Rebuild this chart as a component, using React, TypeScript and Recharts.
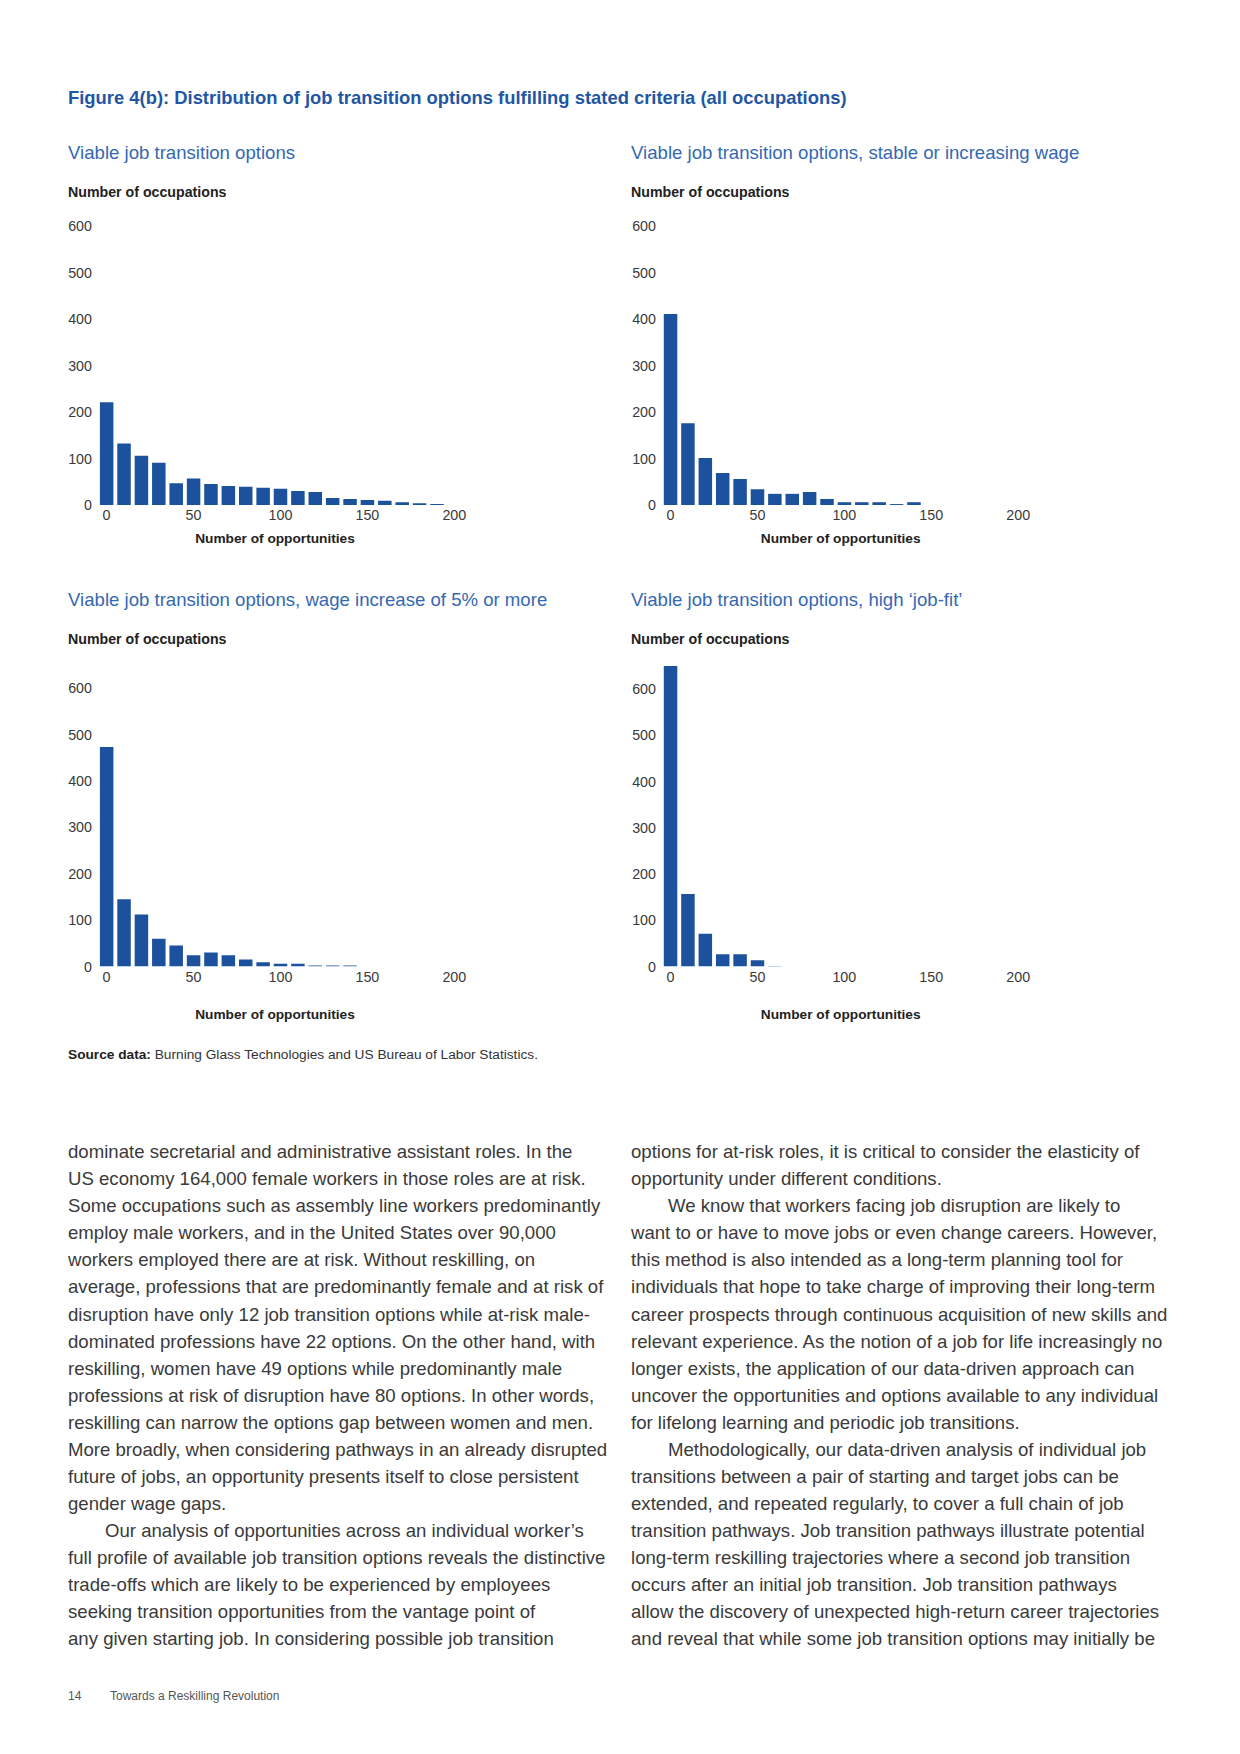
import React from "react";
import { BarChart, Bar, XAxis, YAxis } from "recharts";

const FONT = '"Liberation Sans", Arial, Helvetica, sans-serif';
const BAR = "#1c519d";
const BLUE = "#1f57a5";
const SUB = "#3568b3";
const INK = "#3a3a3a";

// bins: number of opportunities (start of each 10-wide bin)
const binsAll = [0, 10, 20, 30, 40, 50, 60, 70, 80, 90, 100, 110, 120, 130, 140, 150, 160, 170, 180, 190];
const binsStable = [0, 10, 20, 30, 40, 50, 60, 70, 80, 90, 100, 110, 120, 130, 140];
const binsWage = [0, 10, 20, 30, 40, 50, 60, 70, 80, 90, 100, 110, 120, 130, 140];
const binsFit = [0, 10, 20, 30, 40, 50, 60];

// number of occupations per bin
const occAll = [221, 132, 106, 91, 47, 57, 45, 41, 39, 37, 35, 30, 28, 15, 13, 11, 9, 6, 4, 2];
const occStable = [411, 176, 101, 69, 56, 34, 24, 24, 28, 13, 6, 6, 6, 2, 6];
const occWage = [473, 145, 112, 60, 45, 24, 30, 24, 15, 9, 6, 6, 2, 2, 2];
const occFit = [650, 157, 71, 27, 27, 14, 1.5];

const yTicks = [0, 100, 200, 300, 400, 500, 600];
const xTicks = [0, 50, 100, 150, 200];
const X_MIN = -6;
const X_MAX = 230;

const leftLines = [
  "dominate secretarial and administrative assistant roles. In the",
  "US economy 164,000 female workers in those roles are at risk.",
  "Some occupations such as assembly line workers predominantly",
  "employ male workers, and in the United States over 90,000",
  "workers employed there are at risk. Without reskilling, on",
  "average, professions that are predominantly female and at risk of",
  "disruption have only 12 job transition options while at-risk male-",
  "dominated professions have 22 options. On the other hand, with",
  "reskilling, women have 49 options while predominantly male",
  "professions at risk of disruption have 80 options. In other words,",
  "reskilling can narrow the options gap between women and men.",
  "More broadly, when considering pathways in an already disrupted",
  "future of jobs, an opportunity presents itself to close persistent",
  "gender wage gaps.",
  "\tOur analysis of opportunities across an individual worker\u2019s",
  "full profile of available job transition options reveals the distinctive",
  "trade-offs which are likely to be experienced by employees",
  "seeking transition opportunities from the vantage point of",
  "any given starting job. In considering possible job transition",
];

const rightLines = [
  "options for at-risk roles, it is critical to consider the elasticity of",
  "opportunity under different conditions.",
  "\tWe know that workers facing job disruption are likely to",
  "want to or have to move jobs or even change careers. However,",
  "this method is also intended as a long-term planning tool for",
  "individuals that hope to take charge of improving their long-term",
  "career prospects through continuous acquisition of new skills and",
  "relevant experience. As the notion of a job for life increasingly no",
  "longer exists, the application of our data-driven approach can",
  "uncover the opportunities and options available to any individual",
  "for lifelong learning and periodic job transitions.",
  "\tMethodologically, our data-driven analysis of individual job",
  "transitions between a pair of starting and target jobs can be",
  "extended, and repeated regularly, to cover a full chain of job",
  "transition pathways. Job transition pathways illustrate potential",
  "long-term reskilling trajectories where a second job transition",
  "occurs after an initial job transition. Job transition pathways",
  "allow the discovery of unexpected high-return career trajectories",
  "and reveal that while some job transition options may initially be",
];

type TProps = {
  x: number;
  y: number;
  size: number;
  color?: string;
  weight?: number | string;
  center?: boolean;
  children: React.ReactNode;
};

function T({ x, y, size, color = INK, weight = 400, center = false, children }: TProps) {
  return (
    <div
      style={{
        position: "absolute",
        left: x,
        top: y - size,
        lineHeight: `${size * 2}px`,
        fontSize: size,
        fontWeight: weight,
        color,
        whiteSpace: "nowrap",
        transform: center ? "translateX(-50%)" : undefined,
      }}
    >
      {children}
    </div>
  );
}

type HistProps = {
  bins: number[];
  counts: number[];
  x0: number;
  x200: number;
  yBase: number;
  y600: number;
  yMax: number;
  labelRight: number;
  barSize: number;
};

function Histogram({ bins, counts, x0, x200, yBase, y600, yMax, labelRight, barSize }: HistProps) {
  const data = bins.map((b, i) => ({ x: b, n: counts[i] }));
  const pxX = (x200 - x0) / 200;
  const pxY = (yBase - y600) / 600;
  const plotLeft = x0 + X_MIN * pxX;
  const plotRight = x0 + X_MAX * pxX;
  const plotTop = yBase - yMax * pxY;
  const left = labelRight - 40;
  const top = plotTop - 20;
  const width = plotRight - left + 30;
  const xAxisH = 30;
  const height = yBase - top + xAxisH;
  const tickStyle = { fill: INK, fontSize: 14.3, fontFamily: FONT };
  return (
    <div style={{ position: "absolute", left, top }}>
      <BarChart
        width={width}
        height={height}
        data={data}
        margin={{ top: plotTop - top, right: width - (plotRight - left), bottom: 0, left: 0 }}
      >
        <XAxis
          type="number"
          dataKey="x"
          domain={[X_MIN, X_MAX]}
          ticks={xTicks}
          allowDataOverflow
          axisLine={false}
          tickLine={false}
          tickSize={0}
          tickMargin={5}
          height={xAxisH}
          interval={0}
          tick={tickStyle}
        />
        <YAxis
          type="number"
          domain={[0, yMax]}
          ticks={yTicks}
          allowDataOverflow
          axisLine={false}
          tickLine={false}
          tickSize={0}
          tickMargin={plotLeft - labelRight}
          width={plotLeft - left}
          interval={0}
          tick={tickStyle}
        />
        <Bar dataKey="n" fill={BAR} barSize={barSize} isAnimationActive={false} />
      </BarChart>
    </div>
  );
}

function Column({ x, lines }: { x: number; lines: string[] }) {
  return (
    <>
      {lines.map((l, i) => {
        const indent = l.startsWith("\t");
        return (
          <T key={i} x={indent ? x + 37 : x} y={1151.7 + 27.07 * i} size={18.6} color="#3a3a3a">
            {indent ? l.slice(1) : l}
          </T>
        );
      })}
    </>
  );
}

export default function App() {
  return (
    <div
      style={{
        position: "relative",
        width: 1240,
        height: 1754,
        background: "#fff",
        fontFamily: FONT,
        overflow: "hidden",
      }}
    >
      <style>{"body{margin:0}"}</style>

      <T x={68} y={98.3} size={18.4} color={BLUE} weight={700}>
        Figure 4(b): Distribution of job transition options fulfilling stated criteria (all occupations)
      </T>

      <T x={68} y={153} size={18.6} color={SUB}>Viable job transition options</T>
      <T x={631} y={153} size={18.6} color={SUB}>Viable job transition options, stable or increasing wage</T>
      <T x={68} y={600} size={18.6} color={SUB}>Viable job transition options, wage increase of 5% or more</T>
      <T x={631} y={600} size={18.6} color={SUB}>Viable job transition options, high {"\u2018"}job-fit{"\u2019"}</T>

      <T x={68} y={192} size={14.2} color="#222" weight={700}>Number of occupations</T>
      <T x={631} y={192} size={14.2} color="#222" weight={700}>Number of occupations</T>
      <T x={68} y={639.3} size={14.2} color="#222" weight={700}>Number of occupations</T>
      <T x={631} y={639.3} size={14.2} color="#222" weight={700}>Number of occupations</T>

      <Histogram bins={binsAll} counts={occAll} x0={106.3} x200={454} yBase={505} y600={226} yMax={600} labelRight={91.7} barSize={13.5} />
      <Histogram bins={binsStable} counts={occStable} x0={670} x200={1017.7} yBase={505} y600={226} yMax={600} labelRight={655.5} barSize={13.5} />
      <Histogram bins={binsWage} counts={occWage} x0={106.3} x200={454} yBase={966.3} y600={688} yMax={650} labelRight={91.7} barSize={13.5} />
      <Histogram bins={binsFit} counts={occFit} x0={670} x200={1017.7} yBase={966.5} y600={689} yMax={650} labelRight={655.5} barSize={13.5} />

      <T x={275} y={539} size={13.7} color="#222" weight={700} center>Number of opportunities</T>
      <T x={840.7} y={539} size={13.7} color="#222" weight={700} center>Number of opportunities</T>
      <T x={275} y={1015} size={13.7} color="#222" weight={700} center>Number of opportunities</T>
      <T x={840.7} y={1015} size={13.7} color="#222" weight={700} center>Number of opportunities</T>

      <T x={68} y={1055} size={13.7} color="#333">
        <span style={{ fontWeight: 700, color: "#222" }}>Source data:</span> Burning Glass Technologies and US Bureau of Labor Statistics.
      </T>

      <Column x={68} lines={leftLines} />
      <Column x={631} lines={rightLines} />

      <T x={68} y={1696} size={12} color="#555">14</T>
      <T x={110} y={1696} size={12} color="#555">Towards a Reskilling Revolution</T>
    </div>
  );
}
